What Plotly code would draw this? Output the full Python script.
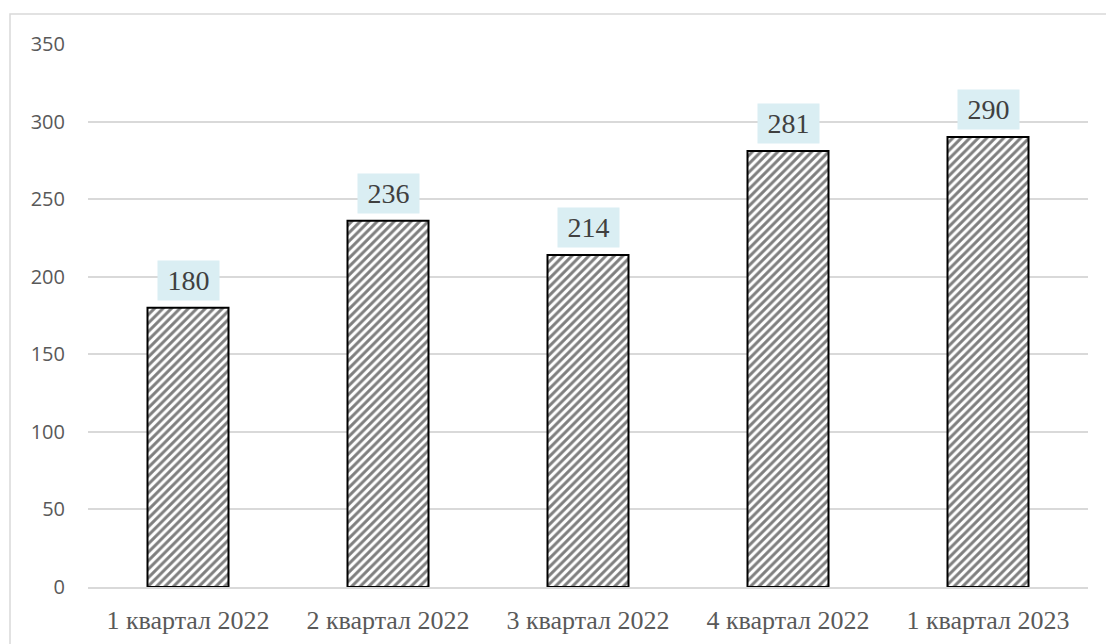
import plotly.graph_objects as go

# Quarterly values
quarters = ["1 квартал 2022", "2 квартал 2022", "3 квартал 2022", "4 квартал 2022", "1 квартал 2023"]
values = [180, 236, 214, 281, 290]
y_ticks = [0, 50, 100, 150, 200, 250, 300, 350]

fig = go.Figure()
fig.add_trace(go.Bar(
    x=quarters,
    y=values,
    marker=dict(
        color="white",
        line=dict(color="black", width=2),
        pattern=dict(shape="/", fgcolor="black", bgcolor="white", size=6, solidity=0.5),
    ),
    width=0.405,
    hoverinfo="skip",
))

# Value labels in light-blue boxes above each bar
for q, v in zip(quarters, values):
    fig.add_annotation(
        x=q, y=v, text="\u2009" + str(v) + "\u2009", showarrow=False,
        yanchor="bottom", yshift=7,
        font=dict(family="Liberation Serif", size=28, color="#404040"),
        bgcolor="#DAEEF3", borderpad=4,
    )

# Light outer frame
fig.add_shape(
    type="rect", xref="paper", yref="paper",
    x0=-0.078, x1=1.05, y0=-0.2, y1=1.0552,
    line=dict(color="#D9D9D9", width=1.5), fillcolor="rgba(0,0,0,0)",
    layer="below",
)

fig.update_layout(
    width=1106, height=644,
    margin=dict(l=88, r=18, t=44, b=57, autoexpand=False),
    paper_bgcolor="white", plot_bgcolor="white",
    showlegend=False,
    xaxis=dict(
        showgrid=False, showline=True, linecolor="#D9D9D9", linewidth=1.5,
        tickfont=dict(family="Liberation Serif", size=26, color="#595959"),
        ticks="", range=[-0.5, 4.5], ticklabelstandoff=9, automargin=False,
    ),
    yaxis=dict(
        range=[0, 350], tickvals=y_ticks,
        showgrid=True, gridcolor="#D9D9D9", gridwidth=1.5,
        zeroline=False, showline=False, ticks="",
        tickfont=dict(family="Open Sans", size=20, color="#595959"),
        ticklabelstandoff=22, automargin=False,
    ),
)

fig.write_html("out.html")
